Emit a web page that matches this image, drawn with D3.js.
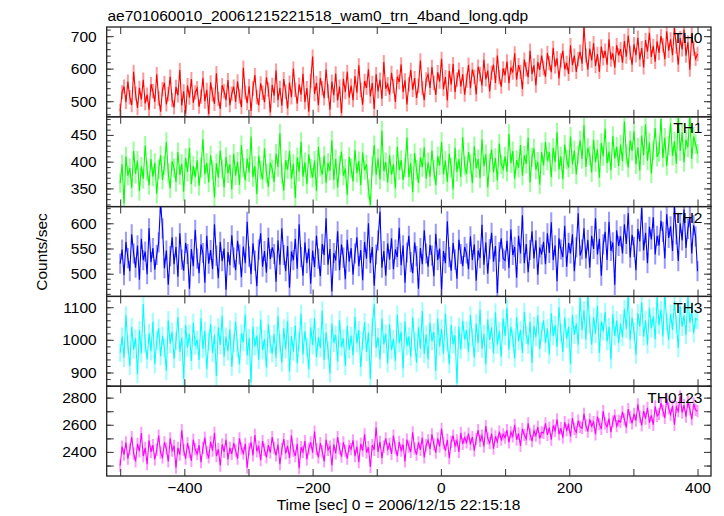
<!DOCTYPE html>
<html><head><meta charset="utf-8">
<script src="https://cdn.jsdelivr.net/npm/d3@7"></script>
<style>body{margin:0;background:#fff}svg{display:block}</style>
</head><body><svg id="c" width="724" height="516"></svg>
<script>
const titleText = "ae701060010_20061215221518_wam0_trn_4band_long.qdp";
const xLabel = "Time [sec] 0 = 2006/12/15 22:15:18";
const yLabel = "Counts/sec";
const tStart = -500, tStep = 3;
const xTicks = [-500,-400,-300,-200,-100,0,100,200,300,400];
const xTickLabels = [-400,-200,0,200,400];
const bandNames = ["TH0","TH1","TH2","TH3","TH0123"];
const bandColors = ["#ff0000","#00ff00","#0000ff","#00ffff","#ff00ff"];
const bandDomains = [[452,728],[316,484],[455,633],[858,1133],[2223,2884]];
const bandLabelTicks = [[500,600,700],[350,400,450],[500,550,600],[900,1000,1100],[2400,2600,2800]];
const bandMinorStep = [20,10,10,20,100];
const bandMajorStep = [100,50,50,100,100];
const bandErrors = [22,18,20,28,45];

const th0 = [
470,528,545,497,560,512,488,590,523,479,541,505,566,493,520,474,552,531,498,583,
509,468,537,556,490,522,575,503,481,544,518,596,487,530,462,549,511,568,495,527,
540,483,514,571,499,535,460,558,521,492,586,507,476,549,530,503,565,488,523,545,
498,561,515,482,603,527,494,546,470,539,580,512,488,555,526,497,573,536,465,550,
517,594,503,541,486,568,529,478,557,512,600,535,492,551,520,584,497,540,468,563,
637,522,556,488,571,540,509,597,531,474,560,518,585,502,545,463,569,528,590,511,
548,503,577,526,610,535,489,562,541,598,515,556,476,583,530,566,507,620,538,552,
520,587,546,498,575,559,613,528,564,490,552,596,535,571,510,548,625,540,503,567,
582,541,605,556,519,589,560,630,537,574,502,593,551,614,528,566,597,545,583,520,
563,612,540,597,575,521,606,583,548,627,567,594,530,588,612,556,640,574,545,601,
579,622,555,604,588,647,566,611,590,537,628,598,574,655,583,610,548,621,596,640,
602,575,648,617,589,664,606,632,570,625,655,598,618,584,672,611,640,590,629,652,
615,730,640,597,662,625,678,608,645,590,668,632,655,612,690,628,647,603,672,641,
660,618,685,637,702,649,612,675,641,695,628,663,604,688,652,710,636,670,621,684,
648,700,672,629,715,655,690,641,725,668,612,694,659,720,640,681,597,705,662,630,
645];
const th1 = [
360,395,322,410,374,388,351,420,377,402,345,391,368,430,383,356,405,372,398,340,
385,412,366,393,437,379,350,401,388,362,418,375,396,344,407,381,426,358,392,371,
403,355,389,442,376,398,361,412,384,333,397,370,421,386,352,409,378,395,348,415,
374,400,357,431,389,365,406,380,447,371,392,339,411,384,367,425,378,353,398,386,
362,415,390,453,377,346,403,385,420,368,396,332,408,381,437,372,399,358,414,387,
370,402,345,428,391,376,411,360,398,383,440,366,405,352,393,419,374,387,338,409,
388,363,422,379,401,356,417,384,395,349,319,392,431,375,406,367,458,382,399,361,
412,376,395,350,428,384,403,366,389,445,371,397,343,416,385,360,408,390,427,368,
399,372,421,385,356,410,393,437,376,402,362,415,389,348,426,381,405,371,446,392,
377,418,396,360,429,388,405,369,442,391,414,352,398,423,380,407,365,434,395,386,
410,381,452,397,420,368,403,389,431,374,412,396,445,361,408,425,385,400,357,418,
393,437,402,418,371,426,399,455,385,410,367,432,404,389,447,395,421,376,413,440,
405,468,390,426,412,380,441,399,423,370,435,410,462,397,419,384,448,406,428,392,
432,401,475,414,389,440,420,457,395,427,383,449,412,470,402,436,378,421,463,409,
418,480,407,445,392,430,472,411,438,396,486,420,455,399,441,427,490,405,447,433,
415];
const th2 = [
520,548,497,563,531,505,578,540,512,556,488,569,527,544,499,590,523,551,508,537,
562,640,590,511,546,478,535,572,519,553,494,580,528,506,561,539,470,549,515,587,
530,501,558,541,482,575,520,547,509,598,536,491,563,525,550,468,543,517,576,532,
507,565,538,493,554,521,603,534,499,560,526,475,548,580,514,545,502,571,529,552,
539,484,566,518,590,537,505,555,472,544,527,569,510,598,533,496,562,521,550,480,
546,513,575,530,495,559,537,610,518,549,465,541,526,584,507,558,532,489,567,524,
551,498,540,572,515,547,487,563,530,600,521,553,476,538,566,623,512,545,496,560,
528,570,509,548,533,591,517,556,482,542,575,523,501,562,535,470,551,519,586,540,
514,557,536,495,579,527,550,468,545,521,604,533,506,561,528,490,567,539,515,553,
540,509,574,527,558,486,546,531,597,518,562,500,549,581,524,555,462,543,570,530,
526,565,511,588,537,553,492,575,540,616,521,559,503,547,584,530,566,498,552,538,
563,519,580,541,602,527,556,485,570,548,533,595,514,561,540,578,505,552,620,536,
548,590,530,567,512,575,549,610,538,569,496,558,583,527,603,545,562,478,586,555,
574,540,598,559,620,532,577,553,507,589,564,630,546,581,521,593,568,612,538,575,
556,605,583,530,618,571,594,545,633,578,525,600,566,627,551,589,612,540,596,574,
505];
const th3 = [
960,1010,945,1075,985,920,1040,970,1005,895,1030,958,1110,990,940,1020,965,1055,925,998,
1035,950,1012,975,905,1060,988,1025,942,997,1070,963,1008,880,1045,977,1018,935,1052,982,
1000,938,1066,972,1028,910,995,1048,960,1015,889,1038,984,1074,948,1010,965,1032,918,990,
1055,976,925,1020,993,1078,952,1006,870,1040,980,1013,939,1062,968,1002,915,1047,987,958,
1018,945,1072,990,930,1035,971,1058,902,1011,964,1044,928,995,1080,955,1026,978,910,1038,
984,1066,947,1008,975,1090,938,1022,968,897,1050,991,1015,934,1061,979,1004,920,1043,970,
1012,952,1070,989,1030,916,997,1054,963,1022,880,1040,1110,975,1008,940,1065,986,1019,928,
1048,968,1003,935,1077,990,1025,912,1056,981,1010,948,1069,995,930,1038,973,1088,957,1016,
940,1052,996,1023,905,1065,979,1034,958,1080,992,925,1045,987,1014,866,1040,970,1058,1001,
1030,962,1075,1008,945,1050,990,1092,973,1018,925,1062,1000,1038,958,1084,985,1027,948,1066,
1012,1098,970,1040,1005,943,1070,996,1030,960,1085,1015,985,1055,930,1043,1008,1075,972,1024,
1060,990,1035,955,1082,1012,1045,978,1100,1020,963,1068,1003,1040,925,1075,1015,1050,985,1128,
1030,1090,1000,1140,1045,985,1070,1018,1105,960,1055,1026,1085,995,1040,940,1078,1012,1060,990,
1050,1008,1095,1033,1140,1000,1068,1025,955,1082,1040,1115,1010,1060,985,1098,1035,1072,1002,1130,
1045,1092,1010,1140,1055,1000,1080,1030,1118,1048,975,1102,1040,1075,1015,1135,1052,1088,1020,1065,
1060];
const th0123 = [
2300,2440,2380,2470,2350,2420,2510,2390,2330,2460,2405,2540,2370,2430,2310,2485,2400,2450,2345,2415,
2520,2395,2360,2470,2425,2330,2500,2410,2445,2285,2430,2380,2560,2415,2350,2465,2400,2335,2490,2420,
2385,2450,2325,2430,2505,2395,2360,2475,2410,2540,2370,2420,2300,2455,2400,2490,2345,2430,2385,2465,
2410,2350,2500,2425,2390,2460,2285,2420,2470,2375,2525,2405,2440,2340,2480,2415,2360,2450,2395,2510,
2430,2375,2455,2310,2420,2495,2390,2445,2355,2520,2410,2370,2460,2280,2435,2400,2480,2345,2425,2470,
2395,2550,2420,2360,2465,2405,2330,2490,2415,2440,2300,2455,2390,2510,2425,2365,2470,2410,2350,2445,
2420,2485,2370,2440,2325,2460,2410,2530,2395,2435,2290,2450,2415,2580,2400,2475,2355,2440,2500,2420,
2460,2385,2520,2430,2370,2475,2410,2455,2330,2490,2440,2400,2545,2425,2380,2470,2415,2505,2360,2450,
2485,2420,2530,2455,2395,2500,2440,2570,2465,2410,2490,2355,2475,2520,2445,2485,2400,2540,2460,2505,
2470,2535,2455,2510,2410,2495,2560,2480,2520,2440,2590,2500,2465,2535,2425,2515,2475,2550,2490,2530,
2505,2560,2470,2545,2515,2600,2490,2535,2445,2570,2525,2495,2610,2530,2480,2555,2520,2585,2500,2545,
2540,2610,2525,2580,2490,2595,2555,2640,2530,2575,2505,2620,2560,2600,2515,2650,2570,2545,2630,2585,
2575,2680,2595,2550,2640,2590,2620,2530,2660,2605,2570,2700,2610,2585,2645,2545,2625,2670,2590,2630,
2620,2695,2640,2580,2715,2655,2610,2680,2630,2750,2660,2595,2700,2645,2725,2615,2670,2600,2735,2665,
2680,2760,2705,2650,2790,2720,2675,2740,2600,2730,2700,2810,2690,2745,2660,2770,2715,2640,2755,2710,
2700];
const bandSeries = [th0, th1, th2, th3, th0123];

const FONT = "'Liberation Sans', Arial, Helvetica, sans-serif";
const FS = 15.5;
const svg = d3.select("#c");
const L = 106.7, R = 711, T = 27, B = 476;
const ph = (B - T) / bandNames.length;
const x = d3.scaleLinear().domain([-521, 421]).range([L, R]);
const fmt = d3.format("d");

svg.append("text").attr("x", 107.5).attr("y", 20.5)
  .attr("font-family", FONT).attr("font-size", FS).attr("fill", "#000").text(titleText);

const defs = svg.append("defs");

bandNames.forEach((name, i) => {
  const top = T + i * ph, bot = top + ph;
  const y = d3.scaleLinear().domain(bandDomains[i]).range([bot, top]);
  const g = svg.append("g");
  const clipId = "clip" + i;
  defs.append("clipPath").attr("id", clipId).append("rect")
    .attr("x", L).attr("y", top).attr("width", R - L).attr("height", ph);
  const data = bandSeries[i].map((v, k) => ({t: tStart + k * tStep, v}));
  const dg = g.append("g").attr("clip-path", `url(#${clipId})`);
  const e = bandErrors[i];
  dg.selectAll("line.err").data(data).join("line")
    .attr("x1", d => x(d.t)).attr("x2", d => x(d.t))
    .attr("y1", d => y(d.v - e)).attr("y2", d => y(d.v + e))
    .attr("stroke", bandColors[i]).attr("stroke-opacity", 0.4).attr("stroke-width", 2);
  dg.append("path").datum(data)
    .attr("d", d3.line().x(d => x(d.t)).y(d => y(d.v)))
    .attr("fill", "none").attr("stroke", bandColors[i]).attr("stroke-width", 1.1);

  const [d0, d1] = bandDomains[i];
  const minors = d3.range(Math.ceil(d0 / bandMinorStep[i]) * bandMinorStep[i], d1 + 0.001, bandMinorStep[i]);
  const majors = d3.range(Math.ceil(d0 / bandMajorStep[i]) * bandMajorStep[i], d1 + 0.001, bandMajorStep[i]);
  const tickStyle = sel => { sel.select(".domain").remove(); sel.selectAll("line").attr("stroke", "#444").attr("stroke-width", 1.1); sel.selectAll("text").remove(); };
  g.append("g").attr("transform", `translate(${L},0)`).call(d3.axisRight(y).tickValues(minors).tickSize(4)).call(tickStyle);
  g.append("g").attr("transform", `translate(${L},0)`).call(d3.axisRight(y).tickValues(majors).tickSize(7)).call(tickStyle);
  g.append("g").attr("transform", `translate(${R},0)`).call(d3.axisLeft(y).tickValues(minors).tickSize(4)).call(tickStyle);
  g.append("g").attr("transform", `translate(${R},0)`).call(d3.axisLeft(y).tickValues(majors).tickSize(7)).call(tickStyle);
  g.append("g").attr("transform", `translate(0,${top})`).call(d3.axisBottom(x).tickValues(xTicks).tickSize(7)).call(tickStyle);
  g.append("g").attr("transform", `translate(0,${bot})`).call(d3.axisTop(x).tickValues(xTicks).tickSize(7)).call(tickStyle);

  const yl = g.append("g").attr("transform", `translate(${L},0)`)
    .call(d3.axisLeft(y).tickValues(bandLabelTicks[i]).tickFormat(fmt).tickSize(0).tickPadding(10));
  yl.select(".domain").remove();
  yl.selectAll("text").attr("font-family", FONT).attr("font-size", FS).attr("fill", "#000");

  g.append("rect").attr("x", L).attr("y", top).attr("width", R - L).attr("height", ph)
    .attr("fill", "none").attr("stroke", "#222").attr("stroke-width", 1.3);

  g.append("text").attr("x", 702.5).attr("y", top + 16.3).attr("text-anchor", "end")
    .attr("font-family", FONT).attr("font-size", FS).attr("fill", "#000").text(name);
});

const xl = svg.append("g").attr("transform", `translate(0,${B})`)
  .call(d3.axisBottom(x).tickValues(xTickLabels).tickSize(0).tickPadding(6));
xl.select(".domain").remove();
xl.selectAll("text").attr("font-family", FONT).attr("font-size", FS).attr("fill", "#000");

svg.append("text").attr("x", 398.5).attr("y", 510).attr("text-anchor", "middle")
  .attr("font-family", FONT).attr("font-size", FS).attr("fill", "#000").text(xLabel);
svg.append("text").attr("transform", `translate(47,252) rotate(-90)`).attr("text-anchor", "middle")
  .attr("font-family", FONT).attr("font-size", FS).attr("fill", "#000").text(yLabel);
</script></body></html>
